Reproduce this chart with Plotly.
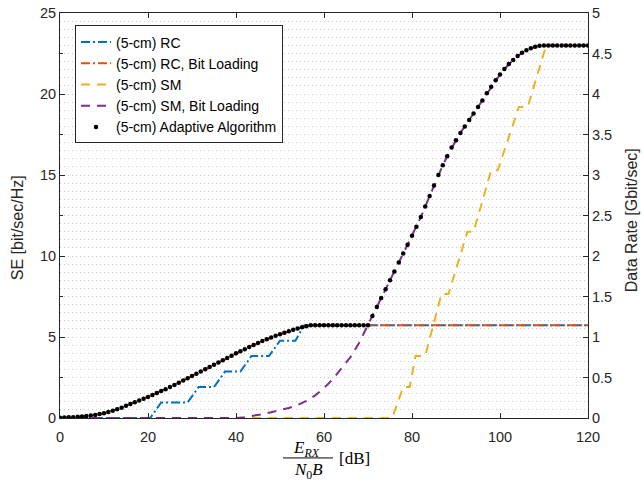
import plotly.graph_objects as go

# ---------------- data ----------------
snr_db = list(range(0, 121))  # dB grid for the adaptive algorithm dots

adaptive_se = [
    0.02, 0.03, 0.04, 0.05, 0.07, 0.09, 0.12, 0.15, 0.19, 0.24,
    0.30, 0.37, 0.45, 0.54, 0.64, 0.75, 0.86, 0.97, 1.08, 1.19,
    1.30, 1.42, 1.54, 1.66, 1.78, 1.91, 2.04, 2.17, 2.31, 2.45,
    2.59, 2.73, 2.87, 3.01, 3.15, 3.29, 3.43, 3.57, 3.71, 3.85,
    3.99, 4.12, 4.25, 4.38, 4.51, 4.63, 4.75, 4.86, 4.97, 5.07,
    5.17, 5.27, 5.36, 5.45, 5.53, 5.60, 5.67, 5.72, 5.73, 5.73,
    5.73, 5.73, 5.73, 5.73, 5.73, 5.73, 5.73, 5.73, 5.73, 5.73,
    5.73, 6.30, 6.85, 7.40, 7.95, 8.50, 9.05, 9.60, 10.15, 10.70,
    11.25, 11.80, 12.40, 13.05, 13.70, 14.35, 15.00, 15.60, 16.15, 16.70,
    17.15, 17.60, 18.00, 18.40, 18.80, 19.20, 19.60, 20.05, 20.45, 20.85,
    21.20, 21.55, 21.85, 22.10, 22.35, 22.55, 22.70, 22.82, 22.92, 22.98,
    23.00, 23.00, 23.00, 23.00, 23.00, 23.00, 23.00, 23.00, 23.00, 23.00,
    23.00,
]

rc_x = [0, 20.5, 23, 29, 31.5, 35, 37.5, 41, 43.5, 47.5, 50, 53.5, 55.5, 120]
rc_se = [0, 0, 0.955, 0.955, 1.91, 1.91, 2.865, 2.865, 3.82, 3.82, 4.775, 4.775, 5.73, 5.73]

rc_bl_x = snr_db[:58] + [120]
rc_bl_se = adaptive_se[:58] + [5.73]

sm_x = [0, 75.5, 78, 79.5, 80.8, 83, 86.7, 88.3, 92.6, 94, 98, 99.5, 104.3, 106.3, 110.5, 120]
sm_se = [0, 0, 1.92, 1.92, 3.83, 3.83, 7.66, 7.66, 11.5, 11.5, 15.3, 15.3, 19.2, 19.2, 23.0, 23.0]

sm_bl_x = [0, 40, 42, 44, 46, 48, 50, 52, 54, 56, 58, 60, 62, 64, 66, 68] + snr_db[70:]
sm_bl_se = [0, 0, 0.05, 0.13, 0.24, 0.36, 0.48, 0.62, 0.80, 1.05, 1.40, 1.85,
            2.40, 3.05, 3.75, 4.65] + adaptive_se[70:]

se_ticks = [0, 5, 10, 15, 20, 25]
rate_ticks = [0, 0.5, 1, 1.5, 2, 2.5, 3, 3.5, 4, 4.5, 5]
rate_tick_text = ["0", "0.5", "1", "1.5", "2", "2.5", "3", "3.5", "4", "4.5", "5"]
x_ticks = [0, 20, 40, 60, 80, 100, 120]
bandwidth_ghz = 0.2  # Data rate = SE * B

# ---------------- figure ----------------
C_BLUE = "#0072BD"
C_ORANGE = "#D95319"
C_YELLOW = "#EDB120"
C_PURPLE = "#7E2F8E"
AX = "#262626"
GRID = "#c8c8c8"
FONT = "Liberation Sans, Arial, Helvetica, sans-serif"

fig = go.Figure()
fig.add_trace(go.Scatter(x=rc_x, y=rc_se, mode="lines", name="(5-cm) RC",
                         line=dict(color=C_BLUE, width=2, dash="9px,3px,2px,3px")))
fig.add_trace(go.Scatter(x=rc_bl_x, y=rc_bl_se, mode="lines", name="(5-cm) RC, Bit Loading",
                         line=dict(color=C_ORANGE, width=2, dash="9px,3px,2px,3px")))
fig.add_trace(go.Scatter(x=sm_x, y=sm_se, mode="lines", name="(5-cm) SM",
                         line=dict(color=C_YELLOW, width=2, dash="9px,7px")))
fig.add_trace(go.Scatter(x=sm_bl_x, y=sm_bl_se, mode="lines", name="(5-cm) SM, Bit Loading",
                         line=dict(color=C_PURPLE, width=2, dash="9px,7px")))
fig.add_trace(go.Scatter(x=snr_db, y=adaptive_se, mode="markers", name="(5-cm) Adaptive Algorithm",
                         marker=dict(color="black", size=4.5)))
# invisible trace carrying the right-hand (data-rate) axis
fig.add_trace(go.Scatter(x=snr_db, y=[v * bandwidth_ghz for v in adaptive_se], yaxis="y2",
                         mode="lines", line=dict(width=0), opacity=0, showlegend=False,
                         hoverinfo="skip"))

L, R, T, B = 60, 56, 12.5, 69
W, H = 644, 487
pw, ph = W - L - R, H - T - B


def px(xp):
    return (xp - L) / pw


def py(yp):
    return (H - B - yp) / ph


fig.update_layout(
    width=W, height=H,
    margin=dict(l=L, r=R, t=T, b=B, pad=0, autoexpand=False),
    paper_bgcolor="white", plot_bgcolor="white",
    font=dict(family=FONT, size=14, color=AX),
    showlegend=True,
    legend=dict(x=px(75), y=py(25), xanchor="left", yanchor="top",
                bgcolor="white", bordercolor=AX, borderwidth=1,
                font=dict(family=FONT, size=14, color="black"),
                tracegroupgap=0),
    xaxis=dict(range=[0, 120], tickvals=x_ticks, ticks="inside", ticklen=5,
               tickcolor=AX, showline=True, linecolor=AX, linewidth=1, mirror="ticks",
               showgrid=False, zeroline=False, tickfont=dict(size=14.5, color=AX),
               ticklabelstandoff=6, automargin=False),
    yaxis=dict(range=[0, 25], tickvals=se_ticks, ticks="inside",
               ticklen=5, tickcolor=AX, showline=True, linecolor=AX, linewidth=1, mirror=True,
               showgrid=False, zeroline=False, tickfont=dict(size=14.5, color=AX),
               minor=dict(tickmode="linear", tick0=0, dtick=2.5, ticks="inside", ticklen=3,
                          tickcolor=AX, showgrid=False),
               automargin=False),
    yaxis2=dict(range=[0, 5], tickvals=rate_ticks, ticktext=rate_tick_text, overlaying="y",
                side="right", ticks="inside", ticklen=5, tickcolor=AX, showline=True,
                linecolor=AX, linewidth=1, zeroline=False,
                showgrid=True, gridcolor=GRID, griddash="1px,3px", gridwidth=1,
                minor=dict(tickmode="linear", tick0=0, dtick=0.1, showgrid=True,
                           gridcolor=GRID, griddash="1px,3px", gridwidth=1, ticks=""),
                tickfont=dict(size=14.5, color=AX), automargin=False),
)

# axis titles
fig.add_annotation(xref="paper", yref="paper", x=px(17), y=py(228), showarrow=False,
                   text="SE [bit/sec/Hz]", textangle=-90,
                   font=dict(family=FONT, size=16, color=AX), xanchor="center", yanchor="middle")
fig.add_annotation(xref="paper", yref="paper", x=px(631), y=py(220), showarrow=False,
                   text="Data Rate [Gbit/sec]", textangle=-90,
                   font=dict(family=FONT, size=16, color=AX), xanchor="center", yanchor="middle")

SERIF = "Liberation Serif, DejaVu Serif, serif"
fig.add_annotation(xref="paper", yref="paper", x=px(306), y=py(449), showarrow=False,
                   text="<i>E</i><sub><i>RX</i></sub>", font=dict(family=SERIF, size=17, color="black"),
                   xanchor="center", yanchor="middle")
fig.add_annotation(xref="paper", yref="paper", x=px(308), y=py(471), showarrow=False,
                   text="<i>N</i><sub>0</sub><i>B</i>", font=dict(family=SERIF, size=17, color="black"),
                   xanchor="center", yanchor="middle")
fig.add_shape(type="line", xref="paper", yref="paper", x0=px(283), x1=px(333),
              y0=py(458), y1=py(458), line=dict(color="black", width=1))
fig.add_annotation(xref="paper", yref="paper", x=px(337), y=py(459), showarrow=False,
                   text="[dB]", font=dict(family=SERIF, size=17, color="black"),
                   xanchor="left", yanchor="middle")

fig.write_html("out.html", post_script="document.body.style.margin='0px';",
               config={"displayModeBar": False})
